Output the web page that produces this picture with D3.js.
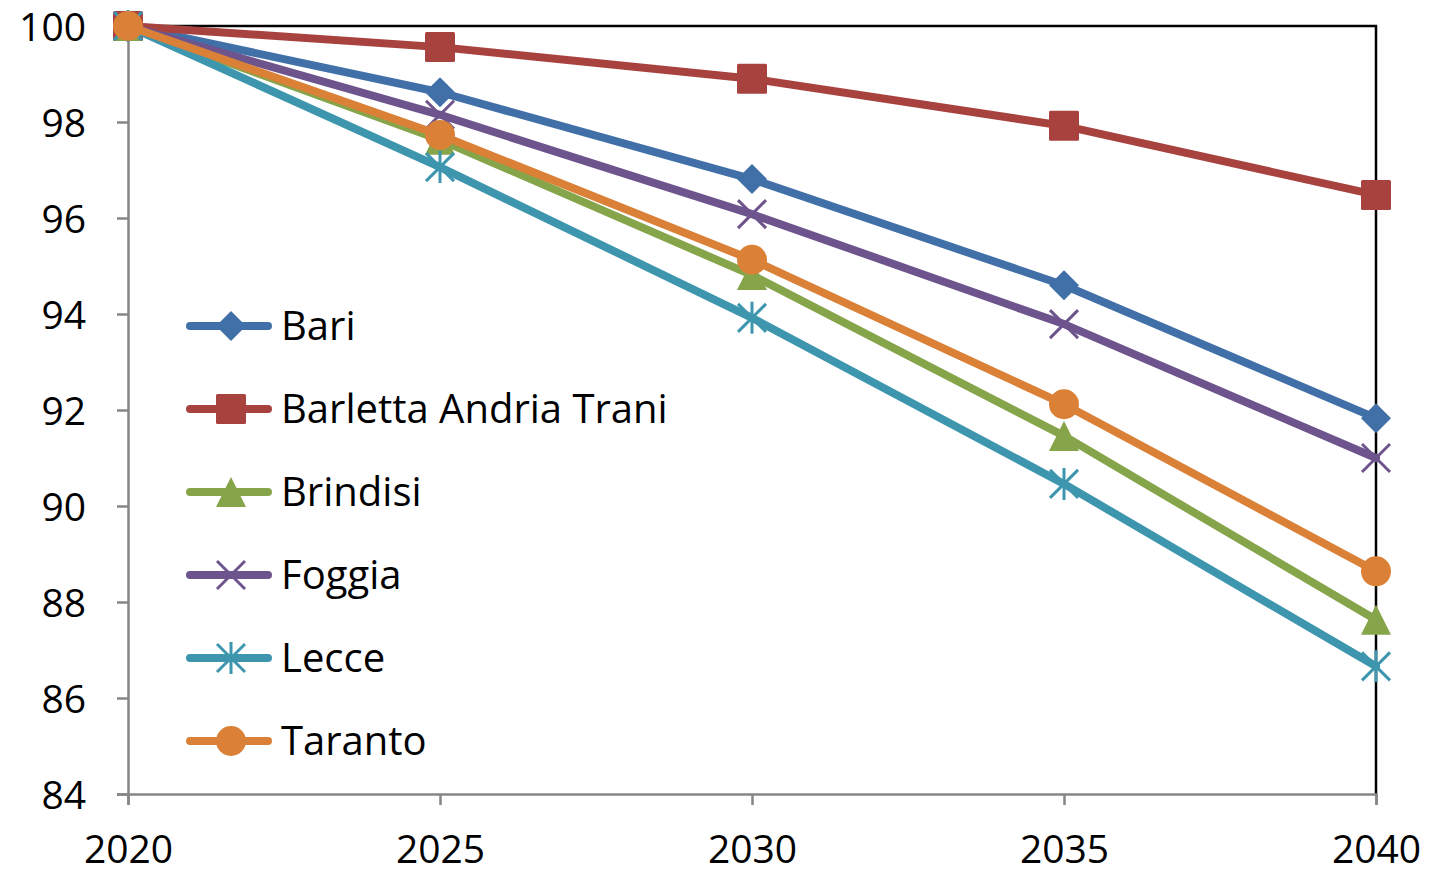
<!DOCTYPE html>
<html>
<head>
<meta charset="utf-8">
<script src="https://cdn.jsdelivr.net/npm/d3@7"></script>
<style>
  html, body { margin: 0; padding: 0; background: #fff; }
  svg { display: block; }
  text { font-family: "Open Sans", "Noto Sans", sans-serif; fill: #000; }
</style>
</head>
<body>
<svg id="chart" width="1442" height="877"></svg>
<script>
// Population index (2020 = 100) by province
const years = [2020, 2025, 2030, 2035, 2040];
const yTicks = [84, 86, 88, 90, 92, 94, 96, 98, 100];
const seriesNames = ["Bari", "Barletta Andria Trani", "Brindisi", "Foggia", "Lecce", "Taranto"];
const bari     = [100, 98.62, 96.81, 94.60, 91.83];
const bat      = [100, 99.56, 98.90, 97.92, 96.48];
const brindisi = [100, 97.63, 94.81, 91.46, 87.63];
const foggia   = [100, 98.15, 96.08, 93.79, 91.00];
const lecce    = [100, 97.06, 93.92, 90.46, 86.66];
const taranto  = [100, 97.73, 95.13, 92.12, 88.64];
const seriesValues = [bari, bat, brindisi, foggia, lecce, taranto];
const colors  = ["#4170A8", "#A8423F", "#86A44A", "#6E548D", "#3D96AE", "#DA8137"];
const markers = ["diamond", "square", "triangle", "x", "star", "circle"];

const svg = d3.select("#chart");
const plot = { left: 128, right: 1376, top: 26, bottom: 794 };

const x = d3.scaleLinear().domain([2020, 2040]).range([plot.left, plot.right]);
const y = d3.scaleLinear().domain([84, 100]).range([plot.bottom, plot.top]);

// plot frame (top and right edges)
svg.append("path")
  .attr("d", `M${plot.left},${plot.top}H${plot.right}V${plot.bottom}`)
  .attr("fill", "none").attr("stroke", "#000").attr("stroke-width", 2.5);

// y axis
const yAxis = svg.append("g").attr("transform", `translate(${plot.left},0)`)
  .call(d3.axisLeft(y).tickValues(yTicks).tickSize(11).tickPadding(31).tickFormat(d3.format("d")));
yAxis.select(".domain").attr("stroke", "#868686").attr("stroke-width", 2.5);
yAxis.selectAll(".tick line").attr("stroke", "#868686").attr("stroke-width", 2.5);
yAxis.selectAll(".tick text").style("font-size", "39px").attr("dy", "0.36em")
  .style("font-family", "'Open Sans', sans-serif").attr("fill", "#000");

// x axis
const xAxis = svg.append("g").attr("transform", `translate(0,${plot.bottom})`)
  .call(d3.axisBottom(x).tickValues(years).tickSize(11).tickPadding(30).tickFormat(d3.format("d")));
xAxis.select(".domain").attr("stroke", "#868686").attr("stroke-width", 2.5);
xAxis.selectAll(".tick line").attr("stroke", "#868686").attr("stroke-width", 2.5);
xAxis.selectAll(".tick text").style("font-size", "39px")
  .style("font-family", "'Open Sans', sans-serif").attr("fill", "#000");

// marker drawing
function drawMarker(g, type, color, cx, cy) {
  const s = 15;
  if (type === "diamond") {
    g.append("path").attr("d", `M${cx},${cy - s}L${cx + s},${cy}L${cx},${cy + s}L${cx - s},${cy}Z`).attr("fill", color);
  } else if (type === "square") {
    g.append("rect").attr("x", cx - s).attr("y", cy - s).attr("width", 2 * s).attr("height", 2 * s)
      .attr("rx", 1.5).attr("fill", color);
  } else if (type === "triangle") {
    g.append("path").attr("d", `M${cx},${cy - s}L${cx + s},${cy + s}L${cx - s},${cy + s}Z`).attr("fill", color);
  } else if (type === "circle") {
    g.append("circle").attr("cx", cx).attr("cy", cy).attr("r", s).attr("fill", color);
  } else if (type === "x") {
    const a = 14;
    g.append("path").attr("d", `M${cx - a},${cy - a}L${cx + a},${cy + a}M${cx - a},${cy + a}L${cx + a},${cy - a}`)
      .attr("stroke", color).attr("stroke-width", 3).attr("fill", "none");
  } else if (type === "star") {
    const a = 14;
    g.append("path").attr("d", `M${cx - a},${cy - a}L${cx + a},${cy + a}M${cx - a},${cy + a}L${cx + a},${cy - a}M${cx},${cy - a - 2}V${cy + a + 2}`)
      .attr("stroke", color).attr("stroke-width", 3).attr("fill", "none");
  }
}

const line = d3.line().x((d, i) => x(years[i])).y(d => y(d));

seriesValues.forEach((vals, k) => {
  const g = svg.append("g").attr("class", "series");
  g.append("path").datum(vals).attr("d", line)
    .attr("fill", "none").attr("stroke", colors[k]).attr("stroke-width", 8)
    .attr("stroke-linejoin", "round").attr("stroke-linecap", "round");
  vals.forEach((v, i) => drawMarker(g, markers[k], colors[k], x(years[i]), y(v)));
});

// legend
const legendY0 = 326, legendStep = 83;
seriesNames.forEach((name, k) => {
  const g = svg.append("g").attr("class", "legend-item");
  const ly = legendY0 + k * legendStep;
  g.append("line").attr("x1", 190).attr("x2", 268).attr("y1", ly).attr("y2", ly)
    .attr("stroke", colors[k]).attr("stroke-width", 8).attr("stroke-linecap", "round");
  drawMarker(g, markers[k], colors[k], 231, ly);
  g.append("text").attr("x", 281).attr("y", ly).attr("dy", "0.36em")
    .style("font-size", "40px").text(name);
});
</script>
</body>
</html>
